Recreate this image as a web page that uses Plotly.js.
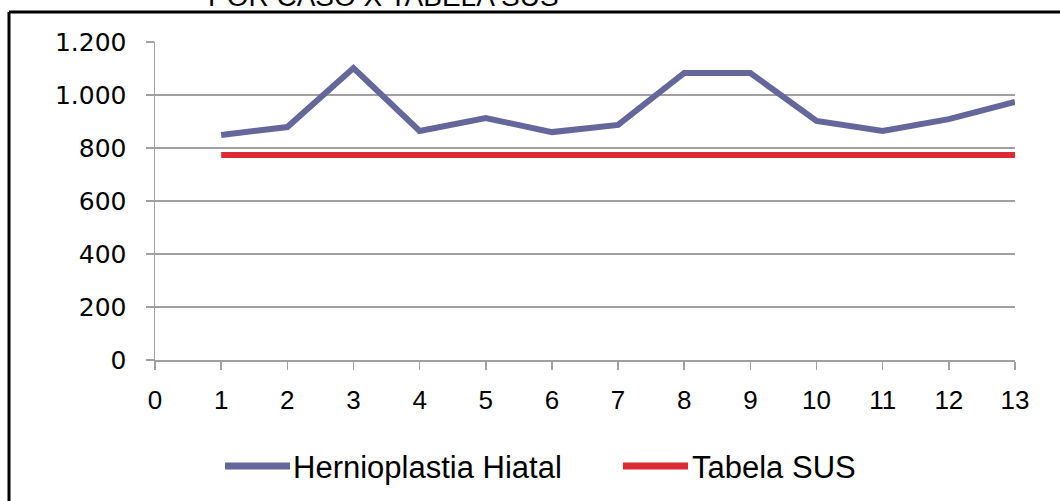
<!DOCTYPE html>
<html>
<head>
<meta charset="utf-8">
<script src="https://cdn.plot.ly/plotly-3.0.1.min.js"></script>
<style>
html,body{margin:0;padding:0;background:#fff;}
#chart{width:1060px;height:501px;}
</style>
</head>
<body>
<div id="chart"></div>
<script>
// ---- data ----
const xCases = [1,2,3,4,5,6,7,8,9,10,11,12,13];
const herniaValues = [849,879,1102,864,913,860,887,1083,1083,902,864,909,974];
const susValues = [774,774,774,774,774,774,774,774,774,774,774,774,774];
const xTickVals = [0,1,2,3,4,5,6,7,8,9,10,11,12,13];
const yTickVals = [0,200,400,600,800,1000,1200];
const yTickText = ["0","200","400","600","800","1.000","1.200"];
const seriesNames = ["Hernioplastia Hiatal","Tabela SUS"];
const titleText = "POR CASO X TABELA SUS";

// ---- layout geometry ----
const W = 1060, Hh = 501;
const M = {l:155, r:45, t:42, b:141};
const PW = W - M.l - M.r, PH = Hh - M.t - M.b;
const px = p => (p - M.l) / PW;
const py = p => (M.t + PH - p) / PH;

const blue = '#65679b', red = '#dc2b32', grid = '#a0a0a0';
const arial = 'Liberation Sans, Arial, sans-serif';

const traces = [
  {x:xCases, y:herniaValues, name:seriesNames[0], type:'scatter', mode:'lines',
   line:{color:blue, width:6}, cliponaxis:false, hoverinfo:'x+y'},
  {x:xCases, y:susValues, name:seriesNames[1], type:'scatter', mode:'lines',
   line:{color:red, width:6}, cliponaxis:false, hoverinfo:'x+y'}
];

const shapes = [
  // outer frame (left + top visible)
  {type:'line', xref:'paper', yref:'paper', x0:px(9), x1:px(1070), y0:py(12), y1:py(12), line:{color:'#000', width:3}},
  {type:'line', xref:'paper', yref:'paper', x0:px(9), x1:px(9), y0:py(12), y1:py(510), line:{color:'#000', width:3}},
  // legend symbols
  {type:'line', xref:'paper', yref:'paper', x0:px(225), x1:px(290), y0:py(466), y1:py(466), line:{color:blue, width:7}},
  {type:'line', xref:'paper', yref:'paper', x0:px(623), x1:px(688), y0:py(466), y1:py(466), line:{color:red, width:7}}
];

const annotations = [
  {text:titleText, xref:'paper', yref:'paper', x:px(383), y:py(14), xanchor:'center', yanchor:'bottom',
   showarrow:false, font:{family:arial, size:28, color:'#000'}},
  {text:seriesNames[0], xref:'paper', yref:'paper', x:px(291), y:py(467), xanchor:'left', yanchor:'middle',
   showarrow:false, font:{family:arial, size:31, color:'#000'}},
  {text:seriesNames[1], xref:'paper', yref:'paper', x:px(690), y:py(467), xanchor:'left', yanchor:'middle',
   showarrow:false, font:{family:arial, size:31, color:'#000'}}
];

const layout = {
  width:W, height:Hh,
  margin:{l:M.l, r:M.r, t:M.t, b:M.b, pad:0},
  paper_bgcolor:'#fff', plot_bgcolor:'#fff',
  showlegend:false,
  xaxis:{range:[0,13], tickvals:xTickVals, ticktext:xTickVals.map(String), showgrid:false, zeroline:false,
         showline:true, linecolor:grid, linewidth:1.5, ticks:'outside', ticklen:8, tickcolor:grid, tickwidth:1.5,
         ticklabelstandoff:8,
         tickfont:{family:arial, size:26, color:'#000'}, fixedrange:true},
  yaxis:{range:[0,1200], tickvals:yTickVals, ticktext:yTickText, showgrid:true, gridcolor:grid, gridwidth:1.5,
         zeroline:false, showline:true, linecolor:grid, linewidth:1.5, ticks:'outside', ticklen:8, tickcolor:grid,
         tickwidth:1.5, ticklabelstandoff:14,
         tickfont:{family:'DejaVu Sans, sans-serif', size:25, color:'#000'}, fixedrange:true},
  shapes:shapes,
  annotations:annotations
};

Plotly.newPlot('chart', traces, layout, {displayModeBar:false, staticPlot:true});
</script>
</body>
</html>
